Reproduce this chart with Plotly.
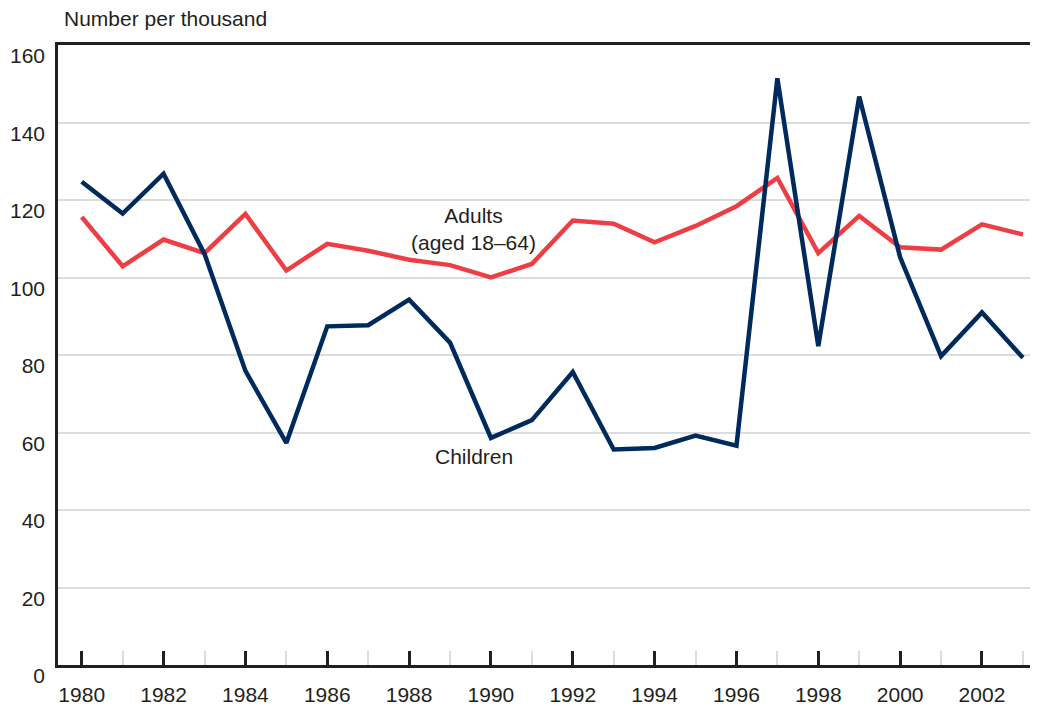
import plotly.graph_objects as go

# values (number per thousand)
years = list(range(1980, 2004))
children = [124.7, 116.5, 126.8, 106.1, 75.9, 57.3, 87.4, 87.7, 94.3, 83.2,
            58.6, 63.2, 75.6, 55.6, 56.0, 59.2, 56.6, 151.4, 82.3, 146.7,
            105.2, 79.7, 91.0, 79.3]
adults = [115.6, 102.9, 109.8, 106.3, 116.4, 101.8, 108.7, 106.9, 104.6, 103.2,
          100.0, 103.5, 114.7, 113.9, 109.1, 113.3, 118.4, 125.7, 106.3, 115.9,
          107.8, 107.2, 113.7, 111.1]

navy = "#002a5c"
red = "#ee3e45"
ink = "#231f20"
font = "Liberation Sans, Arial, sans-serif"

fig = go.Figure()
fig.add_trace(go.Scatter(x=years, y=adults, mode="lines", name="Adults (aged 18–64)",
                         line=dict(color=red, width=4.5)))
fig.add_trace(go.Scatter(x=years, y=children, mode="lines", name="Children",
                         line=dict(color=navy, width=4.5)))

fig.add_annotation(x=1989.58, y=112.6, text="Adults<br>(aged 18–64)", showarrow=False,
                   font=dict(size=21, color=ink, family=font), align="center")
fig.add_annotation(x=1989.58, y=53.8, text="Children", showarrow=False,
                   font=dict(size=21, color=ink, family=font))
fig.add_annotation(x=0.004, y=1.0435, xref="paper", yref="paper", xanchor="left",
                   yanchor="middle", text="Number per thousand", showarrow=False,
                   font=dict(size=21, color=ink, family=font))

# the page body has an 8px margin, so the figure is shrunk and shifted to suit
fig.update_layout(
    width=1030, height=698,
    margin=dict(l=50, r=2, t=37, b=41, autoexpand=False),
    plot_bgcolor="white", paper_bgcolor="white",
    showlegend=False,
    font=dict(family=font, size=21, color=ink),
    xaxis=dict(range=[1979.42, 2003.32], tick0=1980, dtick=2, automargin=False,
               showline=True, linecolor=ink, linewidth=2.5, mirror=True,
               ticks="inside", ticklen=14, tickwidth=2.5, tickcolor=ink,
               ticklabelstandoff=9, showgrid=False, zeroline=False,
               minor=dict(dtick=1, tick0=1980, ticks="inside", ticklen=14,
                          tickwidth=2, tickcolor="#dcdcdc", showgrid=False)),
    yaxis=dict(range=[0, 160], dtick=20, automargin=False, showgrid=True,
               gridcolor="#dcdcdc", gridwidth=2, showline=True, linecolor=ink,
               linewidth=2.5, zeroline=False, ticks="", ticklabelstandoff=6,
               ticklabelshift=11),
)

fig.write_html("out.html")
